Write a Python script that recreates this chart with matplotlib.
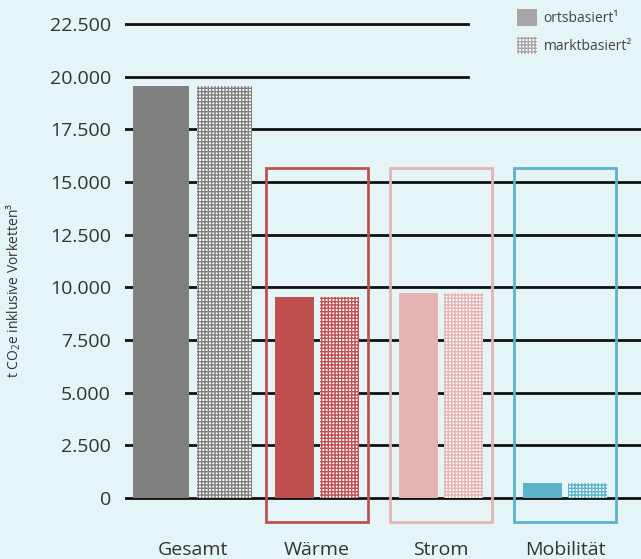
import matplotlib.pyplot as plt
from matplotlib.patches import Patch, Rectangle

categories = ['Gesamt', 'Wärme', 'Strom', 'Mobilität']
ortsbasiert = [19550, 9550, 9750, 700]
marktbasiert = [19550, 9550, 9750, 700]
colors = ['#808080', '#c0504f', '#e6b3b3', '#5cb3cc']
yticks = [0, 2500, 5000, 7500, 10000, 12500, 15000, 17500, 20000, 22500]
box_top = 15650
box_bottom = -1150

plt.rcParams['font.family'] = ['Open Sans', 'DejaVu Sans']
plt.rcParams['mathtext.fontset'] = 'custom'
plt.rcParams['mathtext.rm'] = 'Open Sans'
plt.rcParams['mathtext.it'] = 'Open Sans'
plt.rcParams['hatch.linewidth'] = 1.0

dpi = 100
fig = plt.figure(figsize=(6.41, 5.59), dpi=dpi)
bg = '#e5f4f6'
fig.patch.set_facecolor(bg)
ax = fig.add_axes([125 / 641, 29 / 559, 516 / 641, 520 / 559])
ax.set_facecolor(bg)
ax.set_xlim(-0.548, 3.613)
ax.set_ylim(-1519, 23164)

# gridlines (top two stop before the legend)
for t in yticks:
    xmax = 0.665 if t >= 20000 else 1.0
    ax.axhline(t, xmin=0, xmax=xmax, color='#111111', lw=2, zorder=1)

for i, (a, b, c) in enumerate(zip(ortsbasiert, marktbasiert, colors)):
    if i == 0:
        w, off = 0.45, 0.255
    else:
        w, off = 0.31, 0.18
    ax.bar(i - off, a, width=w, color=c, zorder=2)
    ax.bar(i + off, b, width=w, facecolor='white', edgecolor=c, hatch='+++++',
           linewidth=0, zorder=2)
    if i > 0:
        ax.add_patch(Rectangle((i - 0.415, box_bottom), 0.83, box_top - box_bottom,
                               fill=False, edgecolor=c, lw=2, zorder=3,
                               clip_on=False))

ax.set_yticks(yticks)
ax.set_yticklabels([f'{t:,}'.replace(',', '.') for t in yticks])
ax.set_xticks(range(len(categories)))
ax.set_xticklabels(categories)
ax.tick_params(axis='y', length=0, pad=10, labelsize=14, labelcolor='#333333')
ax.tick_params(axis='x', length=0, pad=8, labelsize=14, labelcolor='#333333')
for s in ax.spines.values():
    s.set_visible(False)

fig.text(14 / 641, 1 - 290 / 559, 't CO$_2$e inklusive Vorketten³', rotation=90,
         ha='center', va='center', fontsize=10, color='#333333')

handles = [Patch(facecolor='#a6a6a6', edgecolor='none'),
           Patch(facecolor='white', edgecolor='#a6a6a6', hatch='+++++', linewidth=0)]
fig.legend(handles, ['ortsbasiert¹', 'marktbasiert²'], loc='upper left',
           bbox_to_anchor=(506 / 641, 1 + 2 / 559), frameon=False, fontsize=10,
           labelcolor='#444444', handlelength=1.4, handleheight=1.5,
           handletextpad=0.5, labelspacing=0.8, borderaxespad=0.4)

fig.savefig('out.png', dpi=dpi, facecolor=bg)
